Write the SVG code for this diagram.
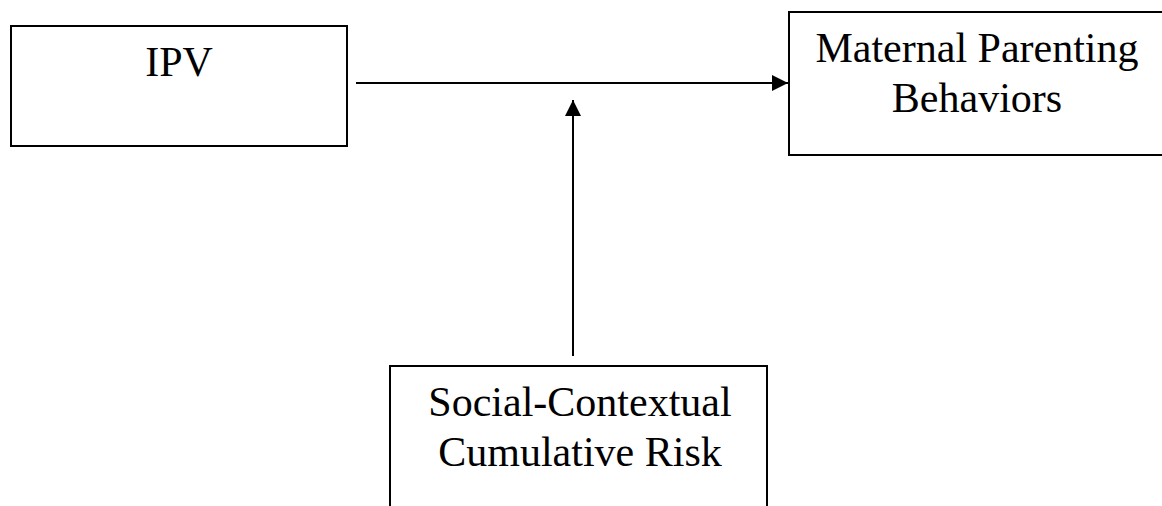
<svg xmlns="http://www.w3.org/2000/svg" width="1162" height="506" viewBox="0 0 1162 506">
<style>
.box{fill:#fff;stroke:#000;stroke-width:2}
.lbl{font-family:"Liberation Serif","Times New Roman",serif;font-size:42px;fill:#000;text-anchor:middle}
.edge{stroke:#000;stroke-width:2;fill:none}
</style>
<defs>
<marker id="ah" viewBox="0 0 10 10" refX="10" refY="5" markerWidth="8" markerHeight="8" markerUnits="userSpaceOnUse" orient="auto">
<path d="M0,0 L10,5 L0,10 Z" fill="#000"/>
</marker>
<marker id="ahb" viewBox="0 0 16 16" refX="16" refY="8" markerWidth="16" markerHeight="16" markerUnits="userSpaceOnUse" orient="auto">
<path d="M0,0 L16,8 L0,16 Z" fill="#000"/>
</marker>
</defs>
<rect width="1162" height="506" fill="#fff"/>
<g id="ipv">
<rect class="box" x="11" y="26" width="336" height="120"/>
<text class="lbl" x="179" y="76">IPV</text>
</g>
<g id="maternal">
<rect class="box" x="789" y="12" width="400" height="143"/>
<text class="lbl" x="977" y="62">Maternal Parenting</text>
<text class="lbl" x="977" y="112">Behaviors</text>
</g>
<g id="risk">
<rect class="box" x="390" y="366" width="377" height="160"/>
<text class="lbl" x="580" y="416">Social-Contextual</text>
<text class="lbl" x="580" y="466">Cumulative Risk</text>
</g>
<g id="connectors">
<line class="edge" x1="356" y1="83" x2="788" y2="83" marker-end="url(#ahb)"/>
<line class="edge" x1="573" y1="356" x2="573" y2="100" marker-end="url(#ahb)"/>
</g>
</svg>
